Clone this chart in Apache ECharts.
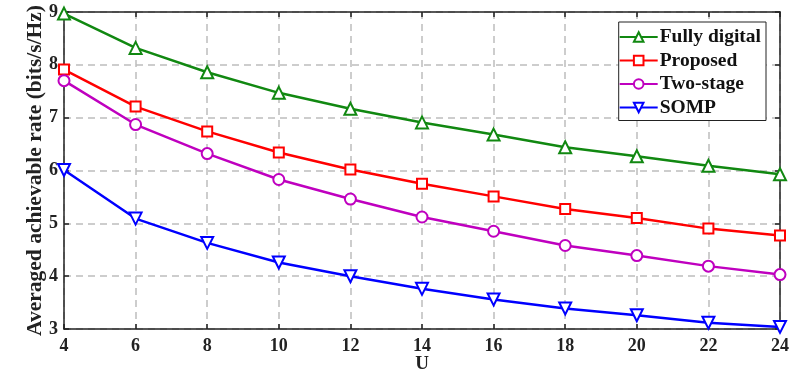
<!DOCTYPE html>
<html>
<head>
<meta charset="utf-8">
<script src="https://cdn.jsdelivr.net/npm/echarts@6/dist/echarts.min.js"></script>
<style>
  html, body { margin: 0; padding: 0; background: #fff; }
</style>
</head>
<body>
<div id="rateChart" style="width: 791px;height: 371px;"></div>
<script>
// number of users U
const users = [4, 6, 8, 10, 12, 14, 16, 18, 20, 22, 24];
// averaged achievable rate (bits/s/Hz)
const fullyDigital = [8.97, 8.32, 7.86, 7.47, 7.17, 6.91, 6.68, 6.44, 6.27, 6.09, 5.93];
const proposed = [7.91, 7.21, 6.74, 6.34, 6.02, 5.75, 5.51, 5.27, 5.10, 4.90, 4.77];
const twoStage = [7.70, 6.87, 6.32, 5.83, 5.46, 5.12, 4.85, 4.58, 4.39, 4.19, 4.03];
const somp = [6.01, 5.09, 4.63, 4.26, 4.00, 3.76, 3.56, 3.39, 3.26, 3.12, 3.04];

const font = 'Liberation Serif';

function pairs(vals) {
  return users.map((u, i) => [u, vals[i]]);
}

function makeSeries(name, vals, color, symbol, size, rotate) {
  return {
    name: name,
    type: 'line',
    data: pairs(vals),
    symbol: symbol,
    symbolSize: size,
    symbolRotate: rotate || 0,
    showAllSymbol: true,
    lineStyle: {color: color, width: 2.5},
    itemStyle: {color: color, borderWidth: 2},
    emphasis: {disabled: true},
    z: 3
  };
}

const boxLine = {show: true, onZero: false, lineStyle: {color: '#222', width: 1.5}};
const tickIn = {show: true, inside: true, length: 5, lineStyle: {color: '#222', width: 1.5}};

let option = {
  animation: false,
  backgroundColor: '#fff',
  grid: {left: 64, right: 11, top: 12, bottom: 42, outerBoundsMode: 'none', containLabel: false},
  xAxis: [
    {
      type: 'value',
      min: 4, max: 24, interval: 2,
      name: 'U',
      nameLocation: 'middle',
      nameGap: 26,
      nameMoveOverlap: false,
      nameTextStyle: {fontFamily: font, fontWeight: 'bold', fontSize: 19, color: '#222'},
      axisLine: boxLine,
      axisTick: tickIn,
      axisLabel: {fontFamily: font, fontWeight: 'bold', fontSize: 18, color: '#222', margin: 8},
      splitLine: {show: true, lineStyle: {color: '#bdbdbd', type: [7, 5], width: 1.5}}
    },
    {
      type: 'value', position: 'top',
      min: 4, max: 24, interval: 2,
      axisLine: boxLine, axisTick: tickIn,
      axisLabel: {show: false}, splitLine: {show: false}
    }
  ],
  yAxis: [
    {
      type: 'value',
      min: 3, max: 9, interval: 1,
      name: 'Averaged achievable rate (bits/s/Hz)',
      nameLocation: 'middle',
      nameGap: 18,
      nameMoveOverlap: false,
      nameTextStyle: {fontFamily: font, fontWeight: 'bold', fontSize: 21.5, color: '#222'},
      axisLine: boxLine,
      axisTick: tickIn,
      axisLabel: {fontFamily: font, fontWeight: 'bold', fontSize: 18, color: '#222', margin: 6},
      splitLine: {show: true, lineStyle: {color: '#bdbdbd', type: [7, 5], width: 1.5}}
    },
    {
      type: 'value', position: 'right',
      min: 3, max: 9, interval: 1,
      axisLine: boxLine, axisTick: tickIn,
      axisLabel: {show: false}, splitLine: {show: false}
    }
  ],
  legend: {
    orient: 'vertical',
    right: 25,
    top: 22,
    padding: [5, 5, 3, 0],
    backgroundColor: '#fff',
    borderColor: '#222',
    borderWidth: 1,
    itemWidth: 38,
    itemHeight: 12,
    itemGap: 3.5,
    selectedMode: false,
    textStyle: {fontFamily: font, fontWeight: 'bold', fontSize: 19.5, lineHeight: 16, color: '#111', padding: [0, 0, 0, -3]},
    data: ['Fully digital', 'Proposed', 'Two-stage', 'SOMP']
  },
  series: [
    makeSeries('Fully digital', fullyDigital, '#118811', 'emptyTriangle', 12),
    makeSeries('Proposed', proposed, '#ff0000', 'emptyRect', 10),
    makeSeries('Two-stage', twoStage, '#bf00bf', 'emptyCircle', 11),
    makeSeries('SOMP', somp, '#0000ff', 'emptyTriangle', 12, 180)
  ]
};

let rateChart = echarts.init(document.getElementById('rateChart'), null, {width: 791, height: 371});
rateChart.setOption(option);
</script>
</body>
</html>
